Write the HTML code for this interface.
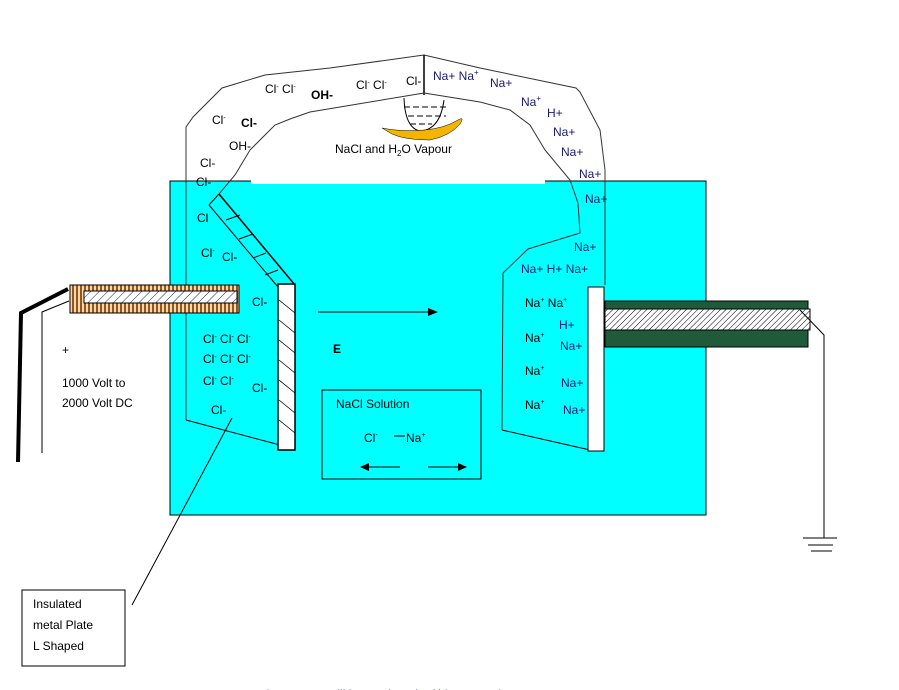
<!DOCTYPE html>
<html><head><meta charset="utf-8"><style>
html,body{margin:0;padding:0;background:#fff;width:899px;height:690px;overflow:hidden}
svg{display:block}
text{font-family:"Liberation Sans",sans-serif;font-size:12px;fill:#000}
.b{fill:#1a1a6e}
</style></head><body>
<svg width="899" height="690" viewBox="0 0 899 690">
<defs>
<pattern id="h" width="6" height="6" patternUnits="userSpaceOnUse" patternTransform="rotate(45)"><rect width="6" height="6" fill="#fff"/><line x1="0" y1="0" x2="0" y2="6" stroke="#1a2a50" stroke-width="1"/></pattern>
<pattern id="hb" width="4" height="4" patternUnits="userSpaceOnUse" patternTransform="rotate(45)"><rect width="4" height="4" fill="#fff"/><line x1="0" y1="0" x2="0" y2="4" stroke="#000" stroke-width="1"/></pattern>
<pattern id="br" width="4" height="4" patternUnits="userSpaceOnUse"><rect width="4" height="4" fill="#f3d9b0"/><rect width="2" height="4" fill="#9a5418"/></pattern>
</defs>
<rect x="170" y="181" width="536" height="334" fill="#00ffff" stroke="#000" stroke-width="1"/>
<rect x="251" y="179" width="294" height="5" fill="#fff"/>
<polyline points="186,420 186,127 193,117 222,88 265,75 330,68 424,55 480,68 576,88 580,92 600,130 605,170 605,285" fill="none" stroke="#333" stroke-width="1"/>
<line x1="424" y1="55" x2="424" y2="95" stroke="#000" stroke-width="1.5"/>
<polyline points="219,194 235,175 250,150 275,125 290,119 310,112 424,93 480,102 510,110 530,125 545,150 570,180 578,203 580,233 528,249 503,273 502,430" fill="none" stroke="#333" stroke-width="1"/>
<line x1="186" y1="420" x2="280" y2="445" stroke="#000"/>
<line x1="502" y1="430" x2="590" y2="450" stroke="#000"/>
<line x1="219" y1="194" x2="295" y2="285" stroke="#000" stroke-width="1.5"/>
<line x1="209" y1="205" x2="278" y2="287" stroke="#000"/>
<line x1="219" y1="194" x2="209" y2="205" stroke="#000"/>
<line x1="226" y1="220" x2="240" y2="215" stroke="#000"/><line x1="239" y1="239" x2="253" y2="234" stroke="#000"/><line x1="253" y1="258" x2="266" y2="253" stroke="#000"/><line x1="265" y1="275" x2="278" y2="270" stroke="#000"/>
<rect x="278" y="284" width="17" height="166" fill="#fff" stroke="#000" stroke-width="1.5"/>
<g stroke="#000" stroke-width="0.8"><line x1="279" y1="300" x2="295" y2="313"/><line x1="279" y1="320" x2="295" y2="333"/><line x1="279" y1="340" x2="295" y2="353"/><line x1="279" y1="360" x2="295" y2="373"/><line x1="279" y1="380" x2="295" y2="393"/><line x1="279" y1="400" x2="295" y2="413"/><line x1="279" y1="420" x2="295" y2="433"/></g>
<rect x="70" y="285" width="169" height="28" fill="url(#br)" stroke="#000"/>
<rect x="84" y="291" width="153" height="12" fill="url(#h)" stroke="#000"/>
<polyline points="68,289 21,313 18,462" fill="none" stroke="#000" stroke-width="4"/>
<polyline points="69,301 42,312 42,453" fill="none" stroke="#000" stroke-width="1"/>
<rect x="588" y="287" width="16" height="164" fill="#fff" stroke="#000"/>
<rect x="605" y="301" width="203" height="46" fill="#1f5a3a" stroke="#000"/>
<rect x="605" y="309" width="205" height="21" fill="url(#hb)" stroke="#000"/>
<polyline points="800,310 824,335 824,538" fill="none" stroke="#000"/>
<line x1="803" y1="538" x2="837" y2="538" stroke="#000"/><line x1="808" y1="545" x2="833" y2="545" stroke="#000"/><line x1="811" y1="551" x2="832" y2="551" stroke="#000"/>
<path d="M404,98 Q405,128 420,131 Q440,130 444,100" fill="none" stroke="#000"/>
<g stroke="#000" stroke-dasharray="6,3"><line x1="404" y1="107" x2="446" y2="107"/><line x1="408" y1="116" x2="446" y2="116"/><line x1="410" y1="124" x2="432" y2="124"/></g>
<path d="M382,128 Q400,132 425,130 Q445,128 458,120 Q465,116 460,124 Q450,136 430,140 Q405,140 392,134 Z" fill="#f5b400" stroke="#000" stroke-width="0.5"/>
<line x1="318" y1="312" x2="430" y2="312" stroke="#000"/><polygon points="438,312 428,308 428,316" fill="#000"/>
<rect x="322" y="390" width="159" height="89" fill="none" stroke="#000"/>
<line x1="368" y1="467" x2="400" y2="467" stroke="#000"/><polygon points="360,467 369,463 369,471" fill="#000"/>
<line x1="428" y1="467" x2="460" y2="467" stroke="#000"/><polygon points="467,467 458,463 458,471" fill="#000"/>
<line x1="394" y1="436" x2="405" y2="436" stroke="#000"/>
<rect x="22" y="590" width="103" height="76" fill="#fff" stroke="#000"/>
<line x1="132" y1="605" x2="232" y2="418" stroke="#000"/>
<text x="265" y="93" font-size="11">Cl<tspan dy="-4" font-size="7">-</tspan><tspan dy="4"> Cl</tspan><tspan dy="-4" font-size="7">-</tspan></text>
<text x="311" y="99" font-size="15" font-weight="bold">OH-</text>
<text x="356" y="89" font-size="11">Cl<tspan dy="-4" font-size="7">-</tspan><tspan dy="4"> Cl</tspan><tspan dy="-4" font-size="7">-</tspan></text>
<text x="406" y="85">Cl-</text>
<text x="433" y="80" class="b">Na+ Na<tspan dy="-5" font-size="8">+</tspan></text>
<text x="490" y="87" class="b">Na+</text>
<text x="521" y="106" class="b">Na<tspan dy="-5" font-size="8">+</tspan></text>
<text x="547" y="117" class="b">H+</text>
<text x="553" y="136" class="b">Na+</text>
<text x="561" y="156" class="b">Na+</text>
<text x="579" y="178" class="b">Na+</text>
<text x="585" y="203" class="b">Na+</text>
<text x="574" y="251" class="b">Na+</text>
<text x="521" y="273" class="b">Na+ H+ Na+</text>
<text x="212" y="124" font-size="11">Cl<tspan dy="-4" font-size="7">-</tspan></text>
<text x="241" y="127" font-size="14" font-weight="bold">Cl-</text>
<text x="229" y="150" font-size="13">OH-</text>
<text x="200" y="167" font-size="13">Cl-</text>
<text x="196" y="186" font-size="11">Cl-</text>
<text x="197" y="222" font-size="11">Cl</text>
<text x="201" y="257" font-size="11">Cl<tspan dy="-4" font-size="7">-</tspan></text>
<text x="222" y="261" font-size="13">Cl-</text>
<text x="252" y="306" font-size="13">Cl-</text>
<text x="203" y="343" font-size="11">Cl<tspan dy="-4" font-size="7">-</tspan><tspan dy="4"> Cl</tspan><tspan dy="-4" font-size="7">-</tspan><tspan dy="4"> Cl</tspan><tspan dy="-4" font-size="7">-</tspan></text>
<text x="203" y="363" font-size="11">Cl<tspan dy="-4" font-size="7">-</tspan><tspan dy="4"> Cl</tspan><tspan dy="-4" font-size="7">-</tspan><tspan dy="4"> Cl</tspan><tspan dy="-4" font-size="7">-</tspan></text>
<text x="203" y="385" font-size="11">Cl<tspan dy="-4" font-size="7">-</tspan><tspan dy="4"> Cl</tspan><tspan dy="-4" font-size="7">-</tspan></text>
<text x="252" y="392" font-size="13">Cl-</text>
<text x="211" y="414" font-size="11">Cl-</text>
<text x="335" y="153" font-size="12">NaCl and H<tspan dy="3" font-size="8">2</tspan><tspan dy="-3">O Vapour</tspan></text>
<text x="525" y="307" font-size="11">Na<tspan dy="-5" font-size="7">+</tspan><tspan dy="5"> Na</tspan><tspan dy="-5" font-size="7">+</tspan></text>
<text x="559" y="329" class="b">H+</text>
<text x="525" y="342" font-size="11">Na<tspan dy="-5" font-size="7">+</tspan></text>
<text x="560" y="350" class="b">Na+</text>
<text x="525" y="375" font-size="11">Na<tspan dy="-5" font-size="7">+</tspan></text>
<text x="561" y="387" class="b">Na+</text>
<text x="525" y="409" font-size="11">Na<tspan dy="-5" font-size="7">+</tspan></text>
<text x="563" y="414" class="b">Na+</text>
<text x="333" y="353" font-size="11" font-weight="bold">E</text>
<text x="336" y="408" font-size="12">NaCl Solution</text>
<text x="364" y="442" font-size="12">Cl<tspan dy="-5" font-size="7">-</tspan></text>
<text x="406" y="442" font-size="12">Na<tspan dy="-5" font-size="7">+</tspan></text>
<text x="62" y="354">+</text>
<text x="62" y="387">1000 Volt to</text>
<text x="62" y="407">2000 Volt DC</text>
<text x="33" y="608" font-size="13">Insulated</text>
<text x="33" y="629" font-size="13">metal Plate</text>
<text x="33" y="650" font-size="13">L Shaped</text>
<text x="228" y="698" font-size="12" class="b">water, the process will be exothermic. (this process)</text>
</svg>
</body></html>
